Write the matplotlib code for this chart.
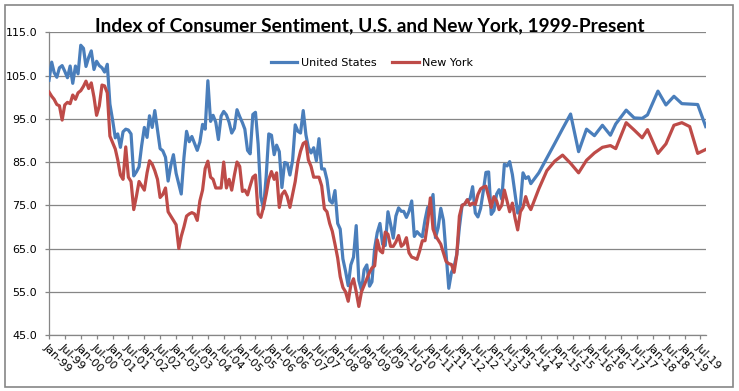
import matplotlib
matplotlib.use("Agg")
import matplotlib.pyplot as plt
import matplotlib.dates as mdates
from matplotlib.ticker import FormatStrFormatter
from matplotlib.patches import Rectangle
import numpy as np
import pandas as pd

# monthly readings Jan-99 .. Mar-14
monthly_start, monthly_end = "1999-01", "2014-03"

us_monthly = [
    103.9, 108.1, 105.7, 104.6, 106.8, 107.3, 106.0, 104.5, 107.2, 103.2, 107.2, 105.4,
    112.0, 111.3, 107.1, 109.2, 110.7, 106.4, 108.3, 107.3, 106.8, 105.8, 107.6, 98.4,
    94.7, 90.6, 91.5, 88.4, 92.0, 92.6, 92.4, 91.5, 81.8, 82.7, 83.9, 88.8,
    93.0, 90.7, 95.7, 93.0, 96.9, 92.4, 88.1, 87.6, 86.1, 80.6, 84.2, 86.7,
    82.4, 79.9, 77.6, 86.0, 92.1, 89.7, 90.9, 89.3, 87.7, 89.6, 93.7, 92.6,
    103.8, 94.4, 95.8, 94.2, 90.2, 95.6, 96.7, 95.9, 94.2, 91.7, 92.8, 97.1,
    95.5, 94.1, 92.6, 87.7, 86.9, 96.0, 96.5, 89.1, 76.9, 74.2, 81.6, 91.5,
    91.2, 86.7, 88.9, 87.4, 79.1, 84.9, 84.7, 82.0, 85.4, 93.6, 92.1, 91.7,
    96.9, 91.3, 88.4, 87.1, 88.3, 85.3, 90.4, 83.4, 83.4, 80.9, 76.1, 75.5,
    78.4, 70.8, 69.5, 62.6, 59.8, 56.4, 61.2, 63.0, 70.3, 57.6, 55.3, 60.1,
    61.2, 56.3, 57.3, 65.1, 68.7, 70.8, 66.0, 65.7, 73.5, 70.6, 67.4, 72.5,
    74.4, 73.6, 73.6, 72.2, 73.6, 76.0, 67.8, 68.9, 68.2, 67.7, 71.6, 74.5,
    74.2, 77.5, 67.5, 69.8, 74.3, 71.5, 63.7, 55.8, 59.5, 60.8, 63.7, 69.9,
    75.0, 75.3, 76.2, 76.4, 79.3, 73.2, 72.3, 74.3, 78.3, 82.6, 82.7, 72.9,
    73.8, 77.6, 78.6, 76.4, 84.5, 84.1, 85.1, 82.1, 77.5, 73.2, 75.1, 82.5,
    81.2, 81.6, 80.0,
]

ny_monthly = [
    101.2, 100.2, 99.5, 98.3, 98.0, 94.7, 98.2, 98.8, 98.5, 100.5, 99.5, 101.0,
    101.5, 102.5, 103.7, 102.0, 103.3, 100.0, 95.8, 98.0, 102.8, 102.6, 101.0, 91.0,
    89.5, 88.0, 85.5, 82.0, 81.0, 88.5, 81.5, 80.5, 74.0, 77.0, 80.5, 79.5,
    78.5, 82.5, 85.3, 84.5, 83.0, 81.0, 76.8, 77.5, 79.0, 73.5, 72.5, 71.5,
    70.5, 65.0, 67.8, 70.0, 72.5, 73.0, 73.3, 73.0, 71.5, 76.0, 78.5, 83.5,
    85.2, 81.5, 81.0, 79.0, 79.0, 79.0, 85.0, 79.0, 81.0, 78.5, 82.0, 85.0,
    84.0, 78.2, 78.5, 77.4, 79.5, 81.5, 82.0, 73.0, 72.2, 74.5, 77.5, 81.0,
    82.8, 81.0, 82.5, 74.5, 77.5, 78.3, 77.0, 74.5, 77.5, 80.5, 85.0, 87.5,
    89.3, 89.7, 85.5, 84.0, 81.5, 81.5, 81.5, 79.5, 74.2, 73.5, 70.8, 69.0,
    66.0, 62.8, 58.5, 56.0, 55.0, 52.8, 56.5, 58.0, 55.0, 51.6, 55.0, 56.5,
    58.0, 59.5, 60.5, 61.0, 67.0, 64.5, 64.0, 68.8, 68.3, 65.5, 65.5, 66.5,
    68.0, 65.5, 66.0, 67.5, 64.0, 63.0, 62.8, 62.5, 64.5, 66.8, 66.8, 71.0,
    76.7, 69.5, 68.0, 67.0, 66.0, 64.0, 62.0, 61.5, 61.3, 59.5, 63.5, 72.5,
    75.0, 75.3, 76.3, 75.0, 75.5, 75.2, 77.5, 78.8, 79.2, 79.4, 77.0, 74.5,
    77.0, 76.0, 74.0, 75.0, 78.5, 76.0, 73.5, 75.5, 72.0, 69.3, 73.5, 74.5,
    77.0, 75.0, 74.0,
]

# quarterly readings after that
quarter_months = ["2014-06", "2014-09", "2014-12", "2015-03", "2015-06", "2015-09",
                  "2015-12", "2016-03", "2016-06", "2016-09", "2016-11", "2017-03",
                  "2017-06", "2017-09", "2017-11", "2018-03", "2018-06", "2018-09",
                  "2018-12", "2019-03", "2019-06", "2019-09"]
us_quarterly = [82.5, 85.9, 89.3, 92.7, 96.1, 87.4, 92.6, 91.1, 93.5, 91.2, 93.8,
                97.0, 95.2, 95.1, 95.9, 101.4, 98.2, 100.2, 98.5, 98.4, 98.3, 93.2]
ny_quarterly = [78.8, 83.0, 85.2, 86.6, 84.7, 82.5, 85.4, 87.1, 88.4, 88.8, 88.1,
                94.1, 92.4, 90.6, 92.5, 87.0, 89.2, 93.5, 94.1, 93.2, 87.0, 87.9]

dates = list(pd.date_range(monthly_start, monthly_end, freq="MS")) + list(pd.to_datetime(quarter_months))
us = us_monthly + us_quarterly
ny = ny_monthly + ny_quarterly

grey = "#868686"
W, H = 739, 391
fig = plt.figure(figsize=(W / 100, H / 100), dpi=100)
ax = fig.add_axes([49 / W, 1 - 335 / H, (705.7 - 49) / W, (335 - 32.3) / H])

ax.plot(dates, us, color="#4A7EBB", lw=2.3, label="United States", solid_joinstyle="round", zorder=3)
ax.plot(dates, ny, color="#BE4B48", lw=2.3, label="New York", solid_joinstyle="round", zorder=3)

ax.set_ylim(45, 115)
ax.set_yticks(np.arange(45, 116, 10))
ax.yaxis.set_major_formatter(FormatStrFormatter("%.1f"))
ax.set_xlim(pd.Timestamp("1999-01-01"), pd.Timestamp("2019-09-01"))
ax.xaxis.set_major_locator(mdates.MonthLocator(bymonth=[1, 7]))
ax.xaxis.set_major_formatter(mdates.DateFormatter("%b-%y"))

ax.grid(axis="y", color=grey, lw=0.9)
ax.set_axisbelow(True)
for s in ["top", "right"]:
    ax.spines[s].set_visible(False)
for s in ["left", "bottom"]:
    ax.spines[s].set_color(grey)
    ax.spines[s].set_linewidth(0.9)

ax.tick_params(axis="y", length=3, width=0.9, color=grey, pad=5.5, labelsize=8)
ax.tick_params(axis="x", length=3, width=0.9, color=grey, pad=2, labelsize=8)
for lbl in ax.get_xticklabels():
    lbl.set_rotation(-45)
    lbl.set_ha("left")
    lbl.set_va("top")
    lbl.set_rotation_mode("anchor")

ax.legend(loc="center", bbox_to_anchor=(0.4916, 0.8976), ncol=2, frameon=False,
          fontsize=8, handlelength=2.4, handletextpad=0.3, columnspacing=1.4)

fig.text(0.5, 1 - 31.5 / H, "Index of Consumer Sentiment, U.S. and New York, 1999-Present",
         ha="center", va="baseline", fontsize=13.8, fontweight="bold", family="Lato")

fig.patches.append(Rectangle((5 / W, 1 - 387 / H), 728 / W, 382 / H, transform=fig.transFigure,
                             fill=False, ec=grey, lw=1.2))

fig.savefig("out.png", dpi=100)
